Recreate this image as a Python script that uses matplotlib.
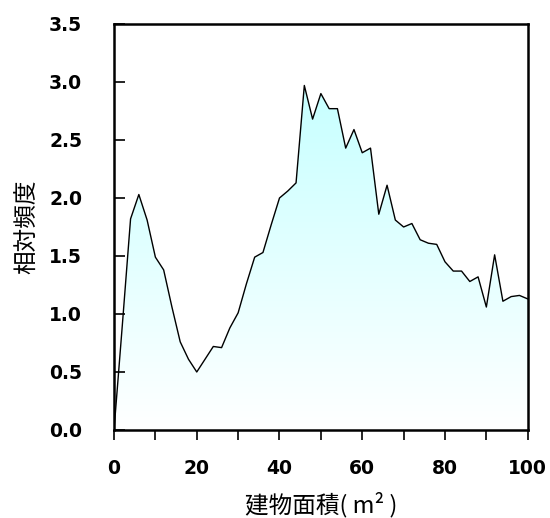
import matplotlib
matplotlib.use("Agg")
import matplotlib.pyplot as plt
import numpy as np
from matplotlib.colors import LinearSegmentedColormap
from matplotlib.ticker import MultipleLocator, FormatStrFormatter

plt.rcParams['font.family'] = ['DejaVu Sans', 'Noto Sans CJK JP']
plt.rcParams['font.weight'] = 'bold'
plt.rcParams['xtick.labelsize'] = 13.5
plt.rcParams['ytick.labelsize'] = 13.5

# building area (m2) and relative frequency
area = np.arange(0, 101, 2)
freq = [0.00, 0.90, 1.82, 2.03, 1.81, 1.49, 1.38, 1.06, 0.76, 0.61,
        0.50, 0.61, 0.72, 0.71, 0.88, 1.01, 1.26, 1.49, 1.53, 1.77,
        2.00, 2.06, 2.13, 2.97, 2.68, 2.90, 2.77, 2.77, 2.43, 2.59,
        2.39, 2.43, 1.86, 2.11, 1.81, 1.75, 1.78, 1.64, 1.61, 1.60,
        1.45, 1.37, 1.37, 1.28, 1.32, 1.06, 1.51, 1.11, 1.15, 1.16,
        1.13]

xlabel = "建物面積( m² )"
ylabel = "相対頻度"

fig = plt.figure(figsize=(5.5, 5.18), dpi=100)
ax = fig.add_axes([0.2073, 0.1699, 0.7522, 0.7838])

# gradient fill under the curve, clipped to the polygon
poly = ax.fill_between(area, 0, freq, color="none", lw=0)
cmap = LinearSegmentedColormap.from_list("cy", ["#ffffff", "#c6ffff"])
grad = np.linspace(0, 1, 256).reshape(-1, 1)
im = ax.imshow(grad, cmap=cmap, origin="lower", aspect="auto",
               extent=[0, 100, 0, 3.0], zorder=1)
path = poly.get_paths()[0]
im.set_clip_path(path, transform=ax.transData)

ax.plot(area, freq, color="black", lw=1.0, zorder=3)

ax.set_xlim(0, 100)
ax.set_ylim(0, 3.5)
ax.xaxis.set_major_locator(MultipleLocator(20))
ax.xaxis.set_minor_locator(MultipleLocator(10))
ax.yaxis.set_major_locator(MultipleLocator(0.5))
ax.yaxis.set_major_formatter(FormatStrFormatter("%.1f"))

ax.tick_params(axis="x", which="both", direction="out", length=7, width=1.2, pad=14)
ax.tick_params(axis="y", direction="in", length=8, width=1.2, pad=23)
for sp in ax.spines.values():
    sp.set_linewidth(1.8)

ax.set_xlabel(xlabel, fontsize=17, fontweight="normal",
              family=['Noto Sans CJK JP', 'DejaVu Sans'], labelpad=10)
ax.set_ylabel(ylabel, fontsize=17, fontweight="normal",
              family=['Noto Sans CJK JP', 'DejaVu Sans'], labelpad=7)

plt.savefig("out.png", dpi=100)
plt.close()
